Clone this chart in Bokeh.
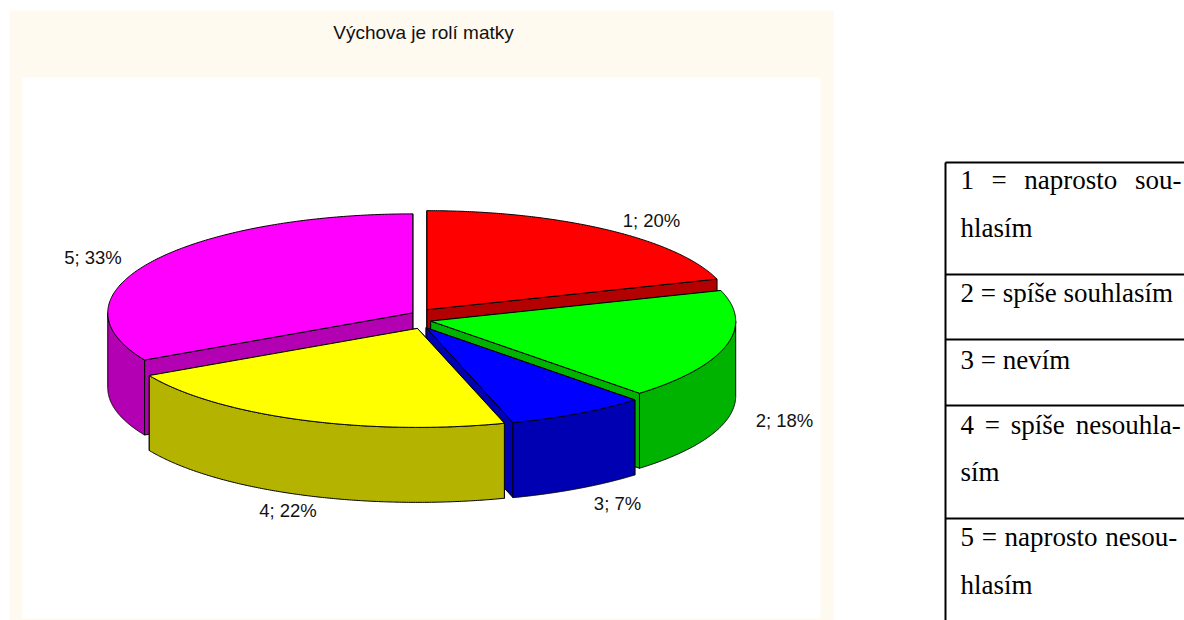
import numpy as np
from bokeh.plotting import figure
from bokeh.core.properties import value
from bokeh.embed import file_html
from bokeh.resources import INLINE

# ---- data ----
CATEGORIES = ["1", "2", "3", "4", "5"]
SHARES = [20.0, 18.0, 7.4, 21.7, 32.9]
TITLE = "Výchova je rolí matky"
TABLE_LINES = ["1 = naprosto sou-", "hlasím", "2 = spíše souhlasím", "3 = nevím",
               "4 = spíše nesouhla-", "sím", "5 = naprosto nesou-", "hlasím"]

# ---- styles / layout ----
TOP_COLORS = ["#ff0000", "#00ff00", "#0000ff", "#ffff00", "#ff00ff"]
SIDE_COLORS = ["#b30000", "#00b300", "#0000b3", "#b3b300", "#b300b3"]
DRAW_ORDER = [0, 4, 1, 2, 3]
CX, CY, RX, RY, DEPTH = 420.7, 317.9, 305.0, 99.0, 75.0
EXPLODE_X, EXPLODE_Y = 9.8, 10.8
LABEL_POS = [(651, 220), (784, 420), (617, 503), (287.5, 510), (92.5, 256.5)]
WORD_GAP = [" \u2009\u2009", None, None, None, "\u2009\u2009", None, "\u2009\u200a", None]
TABLE_BASE = [179, 227, 292, 359, 424, 471, 536, 584]
TABLE_RULES = [162, 274, 339, 405, 518]
TABLE_LEFT, TABLE_RIGHT, PAGE_BOTTOM = 945, 1184, 620
SERIF, SANS = "Liberation Serif", "Liberation Sans"

p = figure(width=1184, height=620, x_range=(0, 1184), y_range=(620, 0),
           output_backend="svg", toolbar_location=None, min_border=0)
p.axis.visible = False
p.grid.visible = False
p.outline_line_color = None
p.background_fill_color = "white"
p.border_fill_color = "white"

p.quad(left=[9], right=[833], top=[10], bottom=[620], fill_color="#fffaef", line_color=None)
p.quad(left=[22], right=[820], top=[77], bottom=[618], fill_color="white", line_color=None)

shares = np.array(SHARES)
edges = np.concatenate([[0.0], np.cumsum(shares) / shares.sum() * 360.0])


def arc(cx, cy, t0, t1):
    t = np.radians(np.linspace(t0, t1, 181))
    return cx + RX * np.sin(t), cy - RY * np.cos(t)


for i in DRAW_ORDER:
    t0, t1 = edges[i], edges[i + 1]
    mid = np.radians((t0 + t1) / 2)
    ax, ay = CX + EXPLODE_X * np.sin(mid), CY - EXPLODE_Y * np.cos(mid)
    side, top = SIDE_COLORS[i], TOP_COLORS[i]
    # cut faces, the one nearer the viewer last
    for t in sorted([t0, t1], key=lambda a: -np.cos(np.radians(a))):
        rx, ry = arc(ax, ay, t, t)
        p.patch([ax, rx[0], rx[0], ax], [ay, ry[0], ry[0] + DEPTH, ay + DEPTH],
                fill_color=side, line_color="black", line_width=1)
    # visible rim (front half only)
    lo, hi = max(t0, 90.0), min(t1, 270.0)
    if hi > lo:
        x, y = arc(ax, ay, lo, hi)
        p.patch(np.concatenate([x, x[::-1]]), np.concatenate([y, y[::-1] + DEPTH]),
                fill_color=side, line_color="black", line_width=1)
    # top face
    x, y = arc(ax, ay, t0, t1)
    p.patch(np.concatenate([[ax], x]), np.concatenate([[ay], y]),
            fill_color=top, line_color="black", line_width=1)

labels = [f"{c}; {round(s)}%" for c, s in zip(CATEGORIES, SHARES)]
p.text(x=[q[0] for q in LABEL_POS], y=[q[1] for q in LABEL_POS], text=labels,
       text_font=value(SANS), text_font_size="18.5px", text_color="#111111",
       text_align="center", text_baseline="alphabetic")
p.text(x=[423], y=[32], text=[TITLE], text_font=value(SANS), text_font_size="19px",
       text_color="#111111", text_align="center", text_baseline="alphabetic")

# table
p.segment(x0=[TABLE_LEFT], y0=[TABLE_RULES[0]], x1=[TABLE_LEFT], y1=[PAGE_BOTTOM],
          line_color="black", line_width=2)
p.segment(x0=[TABLE_LEFT] * len(TABLE_RULES), y0=TABLE_RULES,
          x1=[TABLE_RIGHT] * len(TABLE_RULES), y1=TABLE_RULES, line_color="black", line_width=2)
shown = [ln.replace(" ", g) if g else ln for ln, g in zip(TABLE_LINES, WORD_GAP)]
p.text(x=[960] * len(shown), y=TABLE_BASE, text=shown, text_font=value(SERIF),
       text_font_size="27px", text_color="black", text_align="left", text_baseline="alphabetic")

open("out.html", "w").write(file_html(p, INLINE))
